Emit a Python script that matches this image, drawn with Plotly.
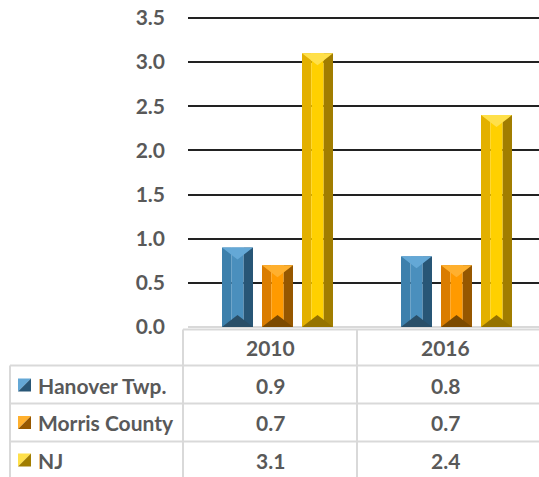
import plotly.graph_objects as go

# ---- data ----
categories = ["2010", "2016"]
series_names = ["Hanover Twp.", "Morris County", "NJ"]
hanover = [0.9, 0.8]
morris = [0.7, 0.7]
nj = [3.1, 2.4]
y_ticks = [0.0, 0.5, 1.0, 1.5, 2.0, 2.5, 3.0, 3.5]

series_values = [hanover, morris, nj]

# ---- styles ----
W, H = 539, 477
ML, MR, MT, MB = 188, 0, 16, 150
PW, PH = W - ML - MR, H - MT - MB
PX_PER_UNIT_Y = 309.0 / 3.5
Y_TOP = PH / PX_PER_UNIT_Y

# colour sets: left, centre, right, top, bottom
palettes = [
    ("#3D80AC", "#4A8FBD", "#285676", "#64A8D6", "#2A4F68"),
    ("#DA7C00", "#FF9A00", "#965700", "#FFB02E", "#7C4A00"),
    ("#E3B000", "#FFD000", "#A17D00", "#FFE04A", "#957300"),
]
TEXT = "#595959"
FONT = "Lato"
GRID_LINE = "#D9D9D9"
NUM_SIZE = 21
LBL_SIZE = 21

cat_px = 179.0                       # pixels per category
slot = 40.0 / cat_px                 # slot per bar (axis units)
bw = 31.0 / cat_px                   # bar width (axis units)
bevel = 12.0 / PX_PER_UNIT_Y

x_pos = list(range(len(categories)))

fig = go.Figure()

for i, (vals, pal) in enumerate(zip(series_values, palettes)):
    left_c, mid_c, right_c, top_c, bot_c = pal
    center_off = (i - 1) * slot
    left = center_off - bw / 2
    strips = [(0.0, 0.3, left_c), (0.3, 0.7, mid_c), (0.7, 1.0, right_c)]
    for a, b, col in strips:
        fig.add_trace(go.Bar(
            x=x_pos, y=vals, width=(b - a) * bw, offset=left + a * bw,
            marker=dict(color=col, line=dict(width=0)),
            hoverinfo="skip", showlegend=False))
    # top and bottom bevel triangles, derived from the data values
    tx, ty, bx, by = [], [], [], []
    for xc, v in zip(x_pos, vals):
        L, R, C = xc + left, xc + left + bw, xc + center_off
        tx += [L, R, C, L, None]
        ty += [v, v, v - bevel, v, None]
        bx += [L, R, C, L, None]
        by += [0, 0, bevel, 0, None]
    fig.add_trace(go.Scatter(x=tx, y=ty, fill="toself", fillcolor=top_c,
                             mode="lines", line=dict(width=0),
                             hoverinfo="skip", showlegend=False))
    fig.add_trace(go.Scatter(x=bx, y=by, fill="toself", fillcolor=bot_c,
                             mode="lines", line=dict(width=0),
                             hoverinfo="skip", showlegend=False))

x_right = -0.5 + PW / cat_px

fig.update_layout(
    width=W, height=H,
    margin=dict(l=ML, r=MR, t=MT, b=MB, pad=0),
    barmode="overlay",
    plot_bgcolor="white", paper_bgcolor="white",
    font=dict(family=FONT, color=TEXT, size=NUM_SIZE),
    xaxis=dict(range=[-0.5, x_right], showticklabels=False, showgrid=False,
               zeroline=False, showline=False, ticks="", fixedrange=True),
    yaxis=dict(range=[0, Y_TOP], tickvals=y_ticks,
               ticktext=[f"{t:.1f}" for t in y_ticks],
               tickfont=dict(family=FONT, size=NUM_SIZE, color=TEXT, weight="bold"),
               showgrid=True, gridcolor="#222222", gridwidth=2,
               zeroline=True, zerolinecolor=GRID_LINE, zerolinewidth=2,
               showline=False, ticks="", ticklabelstandoff=22),
    showlegend=False,
)


def xp(p):
    return (p - ML) / PW


def yp(p):
    return (H - MB - p) / PH


shapes = []


def hline(y, x0, x1):
    shapes.append(dict(type="line", xref="paper", yref="paper",
                       x0=xp(x0), x1=xp(x1), y0=yp(y), y1=yp(y),
                       line=dict(color=GRID_LINE, width=2), layer="below"))


def vline(x, y0, y1):
    shapes.append(dict(type="line", xref="paper", yref="paper",
                       x0=xp(x), x1=xp(x), y0=yp(y0), y1=yp(y1),
                       line=dict(color=GRID_LINE, width=2), layer="below"))


# table grid
hline(329.5, 183, 545)
for yy in [365.5, 403.5, 441.5]:
    hline(yy, 10, 545)
vline(10, 365.5, 480)
vline(183, 329.5, 480)
vline(357, 329.5, 480)

annotations = []
col_x = [270, 445]
header_y = 347
row_y = [385, 422.5, 460]

for cx, cat in zip(col_x, categories):
    annotations.append(dict(x=xp(cx), y=yp(header_y), xref="paper", yref="paper",
                            text=f"<b>{cat}</b>", showarrow=False,
                            xanchor="center", yanchor="middle",
                            font=dict(family=FONT, size=NUM_SIZE, color=TEXT)))

for name, vals, pal, ry in zip(series_names, series_values, palettes, row_y):
    annotations.append(dict(x=xp(36), y=yp(ry), xref="paper", yref="paper",
                            text=f"<b>{name}</b>", showarrow=False,
                            xanchor="left", yanchor="middle",
                            font=dict(family=FONT, size=LBL_SIZE, color=TEXT)))
    for cx, v in zip(col_x, vals):
        annotations.append(dict(x=xp(cx), y=yp(ry), xref="paper", yref="paper",
                                text=f"<b>{v:.1f}</b>", showarrow=False,
                                xanchor="center", yanchor="middle",
                                font=dict(family=FONT, size=NUM_SIZE, color=TEXT)))
    # legend key (bevelled square)
    k0, k1 = 18, 31
    t0, t1 = ry - 6.5, ry + 6.5
    shapes.append(dict(type="path", xref="paper", yref="paper",
                       path=f"M {xp(k0)},{yp(t0)} L {xp(k1)},{yp(t0)} L {xp(k0)},{yp(t1)} Z",
                       fillcolor=pal[3], line=dict(width=0)))
    shapes.append(dict(type="path", xref="paper", yref="paper",
                       path=f"M {xp(k1)},{yp(t0)} L {xp(k1)},{yp(t1)} L {xp(k0)},{yp(t1)} Z",
                       fillcolor=pal[2], line=dict(width=0)))

fig.update_layout(shapes=shapes, annotations=annotations)

fig.write_html(
    "out.html",
    config={"displayModeBar": False},
    post_script="document.body.style.margin='0';document.body.style.overflow='hidden';",
)
